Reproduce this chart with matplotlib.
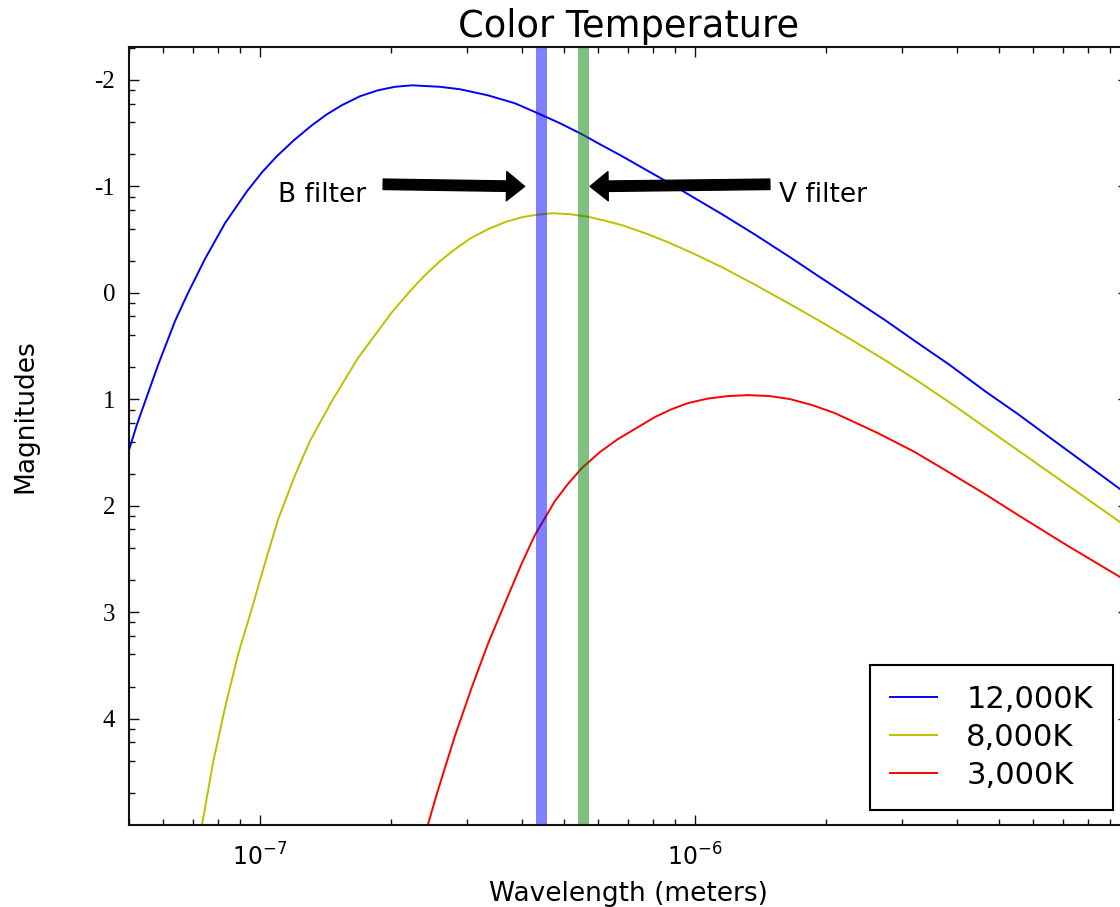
import numpy as np
import matplotlib
matplotlib.use("Agg")
import matplotlib.pyplot as plt
from matplotlib.ticker import FixedLocator, LogLocator, NullFormatter

# values (wavelength in metres, magnitude)
wl_12000 = [5.00e-8, 5.21e-8, 5.47e-8, 5.83e-8, 6.38e-8, 6.83e-8, 7.47e-8, 8.31e-8,
            9.34e-8, 1.011e-7, 1.094e-7, 1.197e-7, 1.317e-7, 1.426e-7, 1.543e-7, 1.698e-7,
            1.867e-7, 2.044e-7, 2.236e-7, 2.594e-7, 2.883e-7, 3.343e-7, 3.857e-7, 4.356e-7,
            4.894e-7, 5.50e-7, 6.05e-7, 6.80e-7, 7.68e-7, 8.67e-7, 1.0e-6, 1.154e-6,
            1.381e-6, 1.654e-6, 1.939e-6, 2.296e-6, 2.735e-6, 3.255e-6, 3.857e-6, 4.642e-6,
            5.528e-6, 6.618e-6, 7.923e-6, 9.485e-6]
mag_12000 = [1.477, 1.242, 0.998, 0.679, 0.265, 0.003, -0.316, -0.654,
             -0.955, -1.133, -1.284, -1.434, -1.575, -1.678, -1.763, -1.847,
             -1.903, -1.936, -1.950, -1.936, -1.913, -1.856, -1.781, -1.687,
             -1.594, -1.490, -1.396, -1.284, -1.161, -1.039, -0.889, -0.739,
             -0.542, -0.335, -0.147, 0.050, 0.256, 0.472, 0.679, 0.923,
             1.139, 1.374, 1.608, 1.843]

wl_8000 = [7.36e-8, 7.80e-8, 8.31e-8, 8.90e-8, 9.59e-8, 1.027e-7, 1.100e-7, 1.197e-7,
           1.303e-7, 1.464e-7, 1.680e-7, 2.012e-7, 2.213e-7, 2.395e-7, 2.594e-7, 2.808e-7,
           3.040e-7, 3.343e-7, 3.658e-7, 4.003e-7, 4.333e-7, 4.692e-7, 5.160e-7, 5.675e-7,
           6.210e-7, 6.80e-7, 7.68e-7, 8.67e-7, 1.0e-6, 1.154e-6, 1.381e-6, 1.654e-6,
           1.939e-6, 2.296e-6, 2.735e-6, 3.255e-6, 3.960e-6, 4.817e-6, 6.760e-6, 9.485e-6]
mag_8000 = [4.998, 4.416, 3.900, 3.402, 2.961, 2.538, 2.134, 1.739,
            1.392, 1.016, 0.613, 0.181, -0.016, -0.166, -0.298, -0.410,
            -0.509, -0.598, -0.664, -0.711, -0.734, -0.748, -0.739, -0.715,
            -0.678, -0.636, -0.561, -0.476, -0.363, -0.241, -0.072, 0.106,
            0.266, 0.444, 0.632, 0.829, 1.064, 1.308, 1.730, 2.153]

wl_3000 = [2.433e-7, 2.539e-7, 2.663e-7, 2.808e-7, 3.072e-7, 3.343e-7, 3.717e-7, 4.003e-7,
           4.287e-7, 4.766e-7, 5.105e-7, 5.497e-7, 6.047e-7, 6.653e-7, 8.091e-7, 8.854e-7,
           9.636e-7, 1.071e-6, 1.191e-6, 1.324e-6, 1.487e-6, 1.654e-6, 1.858e-6, 2.098e-6,
           2.635e-6, 3.204e-6, 3.898e-6, 4.642e-6, 5.528e-6, 7.204e-6, 9.485e-6]
mag_3000 = [4.998, 4.735, 4.462, 4.162, 3.702, 3.298, 2.848, 2.538,
            2.275, 1.956, 1.796, 1.646, 1.496, 1.374, 1.167, 1.092,
            1.036, 0.993, 0.970, 0.961, 0.970, 0.998, 1.054, 1.130,
            1.318, 1.496, 1.703, 1.890, 2.087, 2.378, 2.669]

series_labels = ["12,000K", "8,000K", "3,000K"]
series_colors = ["b", "y", "r"]

filter_names = ["B filter", "V filter"]
filter_centers = [4.43e-7, 5.53e-7]
filter_colors = ["b", "g"]

ytick_vals = [-2, -1, 0, 1, 2, 3, 4]
ytick_labels = ["-2", "-1", "0", "1", "2", "3", "4"]

fig = plt.figure(figsize=(11.2, 9.07), dpi=100)
# axes run a little past the right edge, as in the cropped reference
ax = fig.add_axes([129 / 1120, 1 - 825 / 907, 999 / 1120, 778 / 907])

for wl, mag, lab, col in zip([wl_12000, wl_8000, wl_3000],
                             [mag_12000, mag_8000, mag_3000],
                             series_labels, series_colors):
    ax.plot(wl, mag, color=col, lw=1.4, label=lab)

for c, col in zip(filter_centers, filter_colors):
    ax.axvline(c, color=col, alpha=0.5, lw=7.9)

ax.set_xscale("log")
ax.set_xlim(5e-8, 9.9e-6)
ax.set_ylim(5.0, -2.31)

ax.xaxis.set_minor_locator(LogLocator(base=10, subs=np.arange(2, 10)))
ax.xaxis.set_minor_formatter(NullFormatter())
ax.set_yticks(ytick_vals)
ax.set_yticklabels(ytick_labels, fontfamily="Liberation Serif", fontsize=18)
ax.yaxis.set_minor_locator(FixedLocator(
    [n - np.log10(m) for n in range(-2, 6) for m in (2, 4, 6, 8)]))

ax.tick_params(which="both", direction="in", top=True, right=True, width=1, color="#111111")
ax.tick_params(which="major", length=7)
ax.tick_params(which="minor", length=4)
ax.tick_params(axis="y", pad=10)
ax.tick_params(axis="x", pad=13, labelsize=17)
for s in ax.spines.values():
    s.set_linewidth(1.5)
    s.set_color("#111111")

ax.set_xlabel("Wavelength (meters)", fontsize=19)
ax.xaxis.set_label_coords(0.5, -0.072)
ax.set_ylabel("Magnitudes", fontsize=19)
ax.yaxis.set_label_coords(-0.091, 0.526)
ax.set_title("Color Temperature", fontsize=26.5, pad=7)

# filter arrows and labels
arrow_style = dict(facecolor="black", edgecolor="black", width=7.5,
                   headwidth=21, headlength=13, shrink=0)
ax.annotate("", xy=(4.06e-7, -1.0), xytext=(1.92e-7, -1.02), arrowprops=arrow_style)
ax.annotate("", xy=(5.74e-7, -1.0), xytext=(1.487e-6, -1.02), arrowprops=arrow_style)
ax.text(1.10e-7, -0.92, filter_names[0], fontsize=19, ha="left", va="center")
ax.text(1.56e-6, -0.92, filter_names[1], fontsize=19, ha="left", va="center")

leg = ax.legend(loc="lower right", fontsize=22, fancybox=False, framealpha=1,
                edgecolor="black", borderaxespad=0.5, borderpad=0.65,
                handlelength=1.55, handletextpad=0.95, labelspacing=0.3)
leg.get_frame().set_linewidth(1.5)

fig.savefig("out.png", dpi=100)
